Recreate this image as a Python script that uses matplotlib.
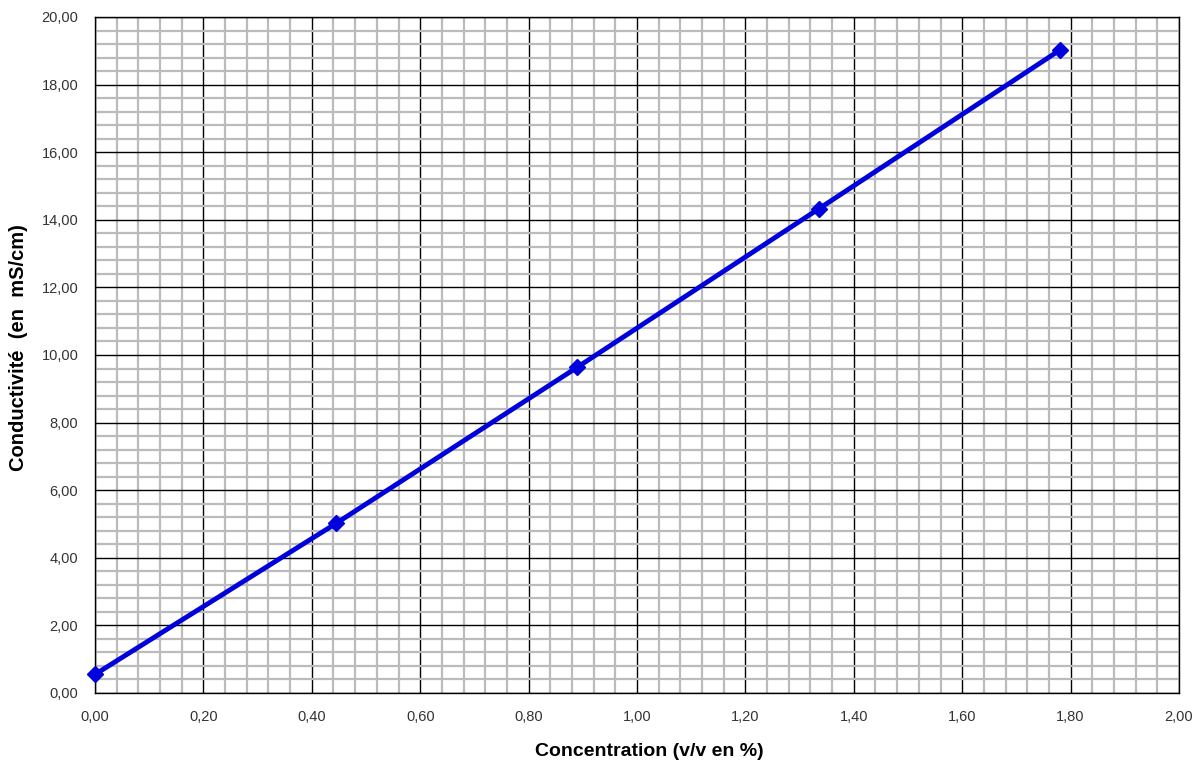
import matplotlib
matplotlib.use("Agg")
import matplotlib.pyplot as plt
from matplotlib.ticker import MultipleLocator, FuncFormatter

concentration = [0.0, 0.445, 0.89, 1.335, 1.78]
conductivite = [0.55, 5.02, 9.64, 14.32, 19.02]

plt.rcParams['font.family'] = ['Liberation Sans', 'DejaVu Sans']

fig = plt.figure(figsize=(11.93, 7.73), dpi=100)
ax = fig.add_axes([95/1193, 1-693/773, (1179-95)/1193, (693-17)/773])

ax.set_xlim(0, 2)
ax.set_ylim(0, 20)
ax.xaxis.set_major_locator(MultipleLocator(0.2))
ax.xaxis.set_minor_locator(MultipleLocator(0.04))
ax.yaxis.set_major_locator(MultipleLocator(2))
ax.yaxis.set_minor_locator(MultipleLocator(0.4))
ax.grid(which='minor', color='#bbbbbb', linewidth=1.6, zorder=0)
ax.grid(which='major', color='#000000', linewidth=1.0, zorder=1)
ax.set_axisbelow(True)

fmt = FuncFormatter(lambda v, p: f"{v:.2f}".replace('.', ','))
ax.xaxis.set_major_formatter(fmt)
ax.yaxis.set_major_formatter(fmt)
ax.tick_params(which='both', length=0, labelsize=10.5, colors='#333333')
ax.tick_params(axis='x', pad=12)
ax.tick_params(axis='y', pad=12)

for s in ax.spines.values():
    s.set_color('black')
    s.set_linewidth(1.0)

ax.plot(concentration, conductivite, color='#0000dd', linewidth=3.5,
        marker='D', markersize=8, markerfacecolor='#0000dd',
        markeredgecolor='#0000dd', zorder=5, clip_on=False)

fig.text(649/1193, 1-752/773, 'Concentration (v/v en %)', fontsize=14,
         fontweight='bold', ha='center', va='center')
fig.text(19/1193, 1-348/773, 'Conductivité  (en  mS/cm)', fontsize=14.5,
         fontweight='bold', ha='center', va='center', rotation=90)

fig.savefig('out.png', dpi=100)
